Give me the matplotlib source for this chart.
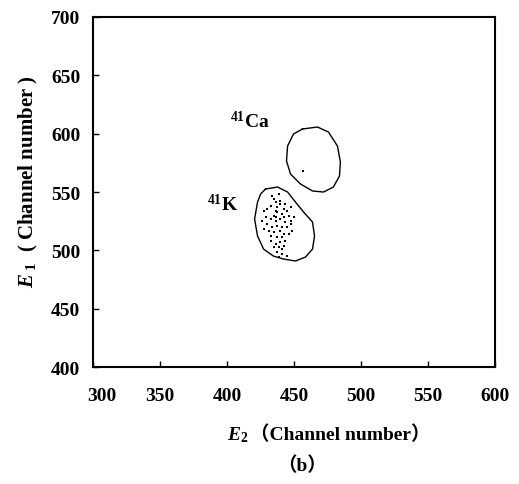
import matplotlib
matplotlib.use('Agg')
from matplotlib import pyplot as plt
from matplotlib.transforms import ScaledTranslation

plt.rcParams['font.family'] = ['Liberation Serif', 'Noto Sans CJK SC']
plt.rcParams['font.weight'] = 'bold'
plt.rcParams['mathtext.fontset'] = 'custom'
plt.rcParams['mathtext.it'] = 'Liberation Serif:italic:bold'
plt.rcParams['mathtext.rm'] = 'Liberation Serif:bold'

# contour of the 41Ca window
ca_x = [456.3, 467.5, 475.7, 482.4, 484.6, 483.9, 479.4, 472.0, 463.8, 454.8, 447.4, 444.4, 445.2, 449.6, 456.3]
ca_y = [604.0, 605.7, 601.4, 589.4, 575.7, 563.7, 554.3, 550.0, 550.9, 556.9, 565.4, 576.6, 589.4, 599.7, 604.0]
ca_dot_x = [457.0]
ca_dot_y = [568.0]

# contour of the 41K window
k_x = [428.8, 437.7, 445.2, 451.1, 457.1, 463.8, 465.3, 463.8, 458.6, 451.1, 442.2, 434.7, 427.3, 422.8,
       420.6, 422.8, 425.1, 428.8]
k_y = [552.6, 554.3, 550.0, 541.4, 532.9, 524.3, 512.3, 501.1, 494.3, 490.9, 492.6, 495.1, 501.1, 512.3,
       526.9, 541.4, 548.3, 552.6]

# events inside the 41K window
k_dot_x = [433.7, 438.7, 436.2, 439.4, 439.9, 432.5, 430.0, 427.5, 436.2, 437.4, 435.0, 442.4, 444.9, 447.4,
           446.1, 442.4, 428.8, 432.5, 436.2, 439.9, 443.6, 447.4, 448.6, 444.9, 441.2, 437.4, 433.7, 427.5,
           431.2, 435.0, 439.9, 442.4, 446.1, 432.5, 437.4, 441.2, 443.6, 439.9, 436.2, 432.5, 438.7, 441.2,
           442.4, 435.0, 437.4, 441.2, 444.9, 438.7, 447.4, 449.9, 426.3, 430.0, 443.6, 435.0, 441.2, 437.4,
           436.9]
k_dot_y = [546.9, 548.3, 541.2, 542.6, 539.8, 538.3, 535.5, 534.0, 534.0, 532.6, 529.8, 535.5, 534.0, 536.9,
           529.8, 528.3, 528.3, 526.9, 525.5, 526.9, 524.0, 525.5, 516.9, 519.8, 519.8, 521.2, 519.8, 518.3,
           516.9, 515.5, 516.9, 514.0, 514.0, 512.6, 511.2, 511.2, 508.3, 506.9, 505.5, 508.3, 502.6, 501.2,
           504.0, 502.6, 498.3, 496.9, 495.5, 494.0, 522.6, 528.3, 525.5, 522.6, 539.8, 544.0, 531.2, 536.9,
           528.3]

x_ticks = [300, 350, 400, 450, 500, 550, 600]
y_ticks = [400, 450, 500, 550, 600, 650, 700]

fig = plt.figure(figsize=(5.19, 4.85), dpi=100)
ax = fig.add_axes([0.179, 0.241, 0.775, 0.722])

ax.plot(ca_x, ca_y, c='k', lw=1.0)
ax.plot(k_x, k_y, c='k', lw=1.0)
ax.plot(ca_dot_x, ca_dot_y, 's', c='k', ms=1.5, mew=0)
ax.plot(k_dot_x, k_dot_y, 's', c='k', ms=1.6, mew=0)

ax.text(402.0, 605.7, r'$^{\mathrm{41}}$Ca', fontsize=14, fontweight='bold')
ax.text(385.0, 534.6, r'$^{\mathrm{41}}$K', fontsize=14, fontweight='bold')

ax.set_xlim(300, 600)
ax.set_ylim(400, 700)
ax.set_xticks(x_ticks)
ax.set_yticks(y_ticks)
ax.tick_params(direction='in', length=4, width=1, labelsize=14, pad=4)
ax.tick_params(axis='x', pad=14)
ax.tick_params(axis='y', pad=9)
for lab in ax.get_xticklabels() + ax.get_yticklabels():
    lab.set_fontweight('bold')
ax.get_xticklabels()[0].set_transform(
    ax.get_xticklabels()[0].get_transform() + ScaledTranslation(9 / 100, 0, fig.dpi_scale_trans))
for spine in ax.spines.values():
    spine.set_linewidth(1.5)

fig.text(0.054, 0.625, r'$E_{\,\,1}$  ( Channel number )', rotation=90, ha='center', va='center',
         fontsize=15, fontweight='bold')
fig.text(0.479, 0.103, r'$E_2$', ha='right', va='center', fontsize=14)
fig.text(0.481, 0.103, '（Channel number）', ha='left', va='center', fontsize=14, fontweight='bold')
fig.text(0.582, 0.039, '（b）', ha='center', va='center', fontsize=14, fontweight='bold')

fig.savefig('out.png', dpi=100)
